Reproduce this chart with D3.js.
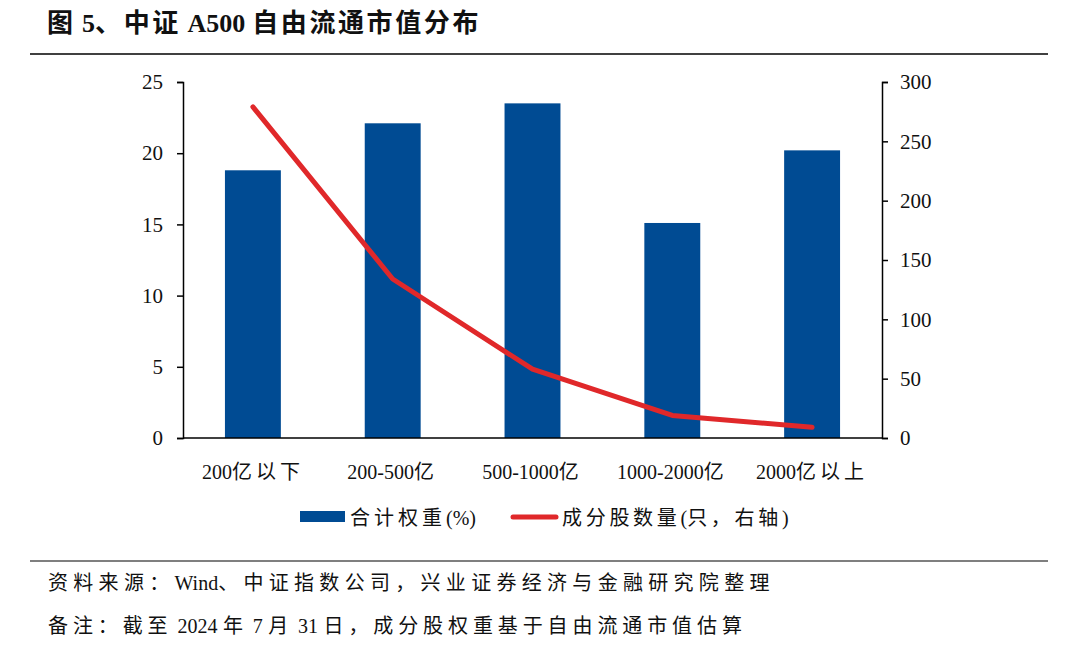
<!DOCTYPE html>
<html><head><meta charset="utf-8">
<script src="https://cdn.jsdelivr.net/npm/d3@7"></script>
<style>
body{margin:0;background:#fff;}
svg{display:block;}
text{font-family:"Liberation Serif","Noto Sans CJK SC",serif;fill:#111;}
</style></head>
<body><svg id="c" width="1080" height="654"></svg>
<script>
const categories = ["200亿以下","200-500亿","500-1000亿","1000-2000亿","2000亿以上"];
const weights = [18.8, 22.1, 23.5, 15.1, 20.2];
const counts = [279, 134, 58, 19, 9];
const leftTicks = [0,5,10,15,20,25];
const rightTicks = [0,50,100,150,200,250,300];

const svg = d3.select("#c");
const m={l:183,r:882,t:82,b:438};

// split text into CJK / Latin runs so CJK glyphs get the wider spacing of the original
function runs(t, str, spacing, cjkWeight){
  const fs = +t.attr("font-size") || 20;
  const re = /([\u3000-\u303f\u4e00-\u9fff\uff00-\uffef]+)|([^\u3000-\u303f\u4e00-\u9fff\uff00-\uffef]+)/g;
  let mm, pend = 0;
  while((mm = re.exec(str))){
    let s;
    if(mm[1]){
      s = t.append("tspan").attr("font-family","Noto Sans CJK SC").attr("letter-spacing",spacing).text(mm[1]);
      if(cjkWeight) s.attr("font-weight",cjkWeight);
      if(pend){ s.attr("dx", pend); pend = 0; }
    } else {
      const txt = mm[2];
      const core = txt.replace(/ +$/,"");
      const trail = txt.length - core.length;
      s = t.append("tspan").attr("font-family","Liberation Serif").text(core.replace(/ /g,"\u00a0"));
      if(pend) s.attr("dx", pend);
      pend = trail * 0.27 * fs;
    }
  }
  return t;
}

// title
runs(svg.append("text").attr("x",47).attr("y",32).attr("font-size",26).attr("font-weight","bold"),
  "图 5、中证 A500 自由流通市值分布", 2.6, "bold");
svg.append("line").attr("x1",30).attr("x2",1048).attr("y1",54).attr("y2",54).attr("stroke","#000").attr("stroke-width",1.5);

const x = d3.scaleBand().domain(categories).range([m.l,m.r]).paddingInner(0.6).paddingOuter(0.3);
const yL = d3.scaleLinear().domain([0,25]).range([m.b,m.t]);
const yR = d3.scaleLinear().domain([0,300]).range([m.b,m.t]);

svg.selectAll("rect.bar").data(weights).join("rect").attr("class","bar")
  .attr("x",(d,i)=>x(categories[i])).attr("width",x.bandwidth())
  .attr("y",d=>yL(d)).attr("height",d=>m.b-yL(d)).attr("fill","#004b93");

const line = d3.line().x((d,i)=>x(categories[i])+x.bandwidth()/2).y(d=>yR(d));
svg.append("path").datum(counts).attr("d",line).attr("fill","none")
  .attr("stroke","#e0282a").attr("stroke-width",5).attr("stroke-linecap","round").attr("stroke-linejoin","round");

const ax = g=>{g.selectAll(".domain").attr("stroke","#000").attr("stroke-width",1.5);
  g.selectAll(".tick line").attr("stroke","#000").attr("stroke-width",1.5);
  g.selectAll("text").attr("font-size",21).attr("font-family","Liberation Serif").attr("fill","#111");};

svg.append("g").attr("transform",`translate(${m.l},0)`)
  .call(d3.axisLeft(yL).tickValues(leftTicks).tickSize(6).tickSizeOuter(6).tickPadding(14)).call(ax);
svg.append("g").attr("transform",`translate(${m.r},0)`)
  .call(d3.axisRight(yR).tickValues(rightTicks).tickSize(6).tickSizeOuter(6).tickPadding(12)).call(ax);
const xa = svg.append("g").attr("transform",`translate(0,${m.b})`)
  .call(d3.axisBottom(x).tickSize(0).tickPadding(27));
xa.select(".domain").attr("d",`M${m.l},0H${m.r}`).attr("stroke","#000").attr("stroke-width",1.5);
xa.selectAll(".tick text").attr("font-size",20).attr("fill","#111").each(function(d){
  const t = d3.select(this); t.text(null); runs(t, d, 4);
});

// legend
const lg = svg.append("g");
lg.append("rect").attr("x",300).attr("y",511).attr("width",45).attr("height",11).attr("fill","#004b93");
runs(lg.append("text").attr("x",350).attr("y",525).attr("font-size",20), "合计权重(%)", 4);
lg.append("line").attr("x1",513).attr("x2",556).attr("y1",517).attr("y2",517).attr("stroke","#e0282a").attr("stroke-width",5).attr("stroke-linecap","round");
runs(lg.append("text").attr("x",562).attr("y",525).attr("font-size",20), "成分股数量(只，右轴)", 3.7);

// footer
svg.append("line").attr("x1",30).attr("x2",1048).attr("y1",561).attr("y2",561).attr("stroke","#000").attr("stroke-width",1.2);
runs(svg.append("text").attr("x",48).attr("y",590).attr("font-size",20), "资料来源：Wind、中证指数公司，兴业证券经济与金融研究院整理", 5.3);
runs(svg.append("text").attr("x",48).attr("y",633).attr("font-size",20), "备注：截至 2024 年 7 月 31 日，成分股权重基于自由流通市值估算", 4.9);
</script></body></html>
